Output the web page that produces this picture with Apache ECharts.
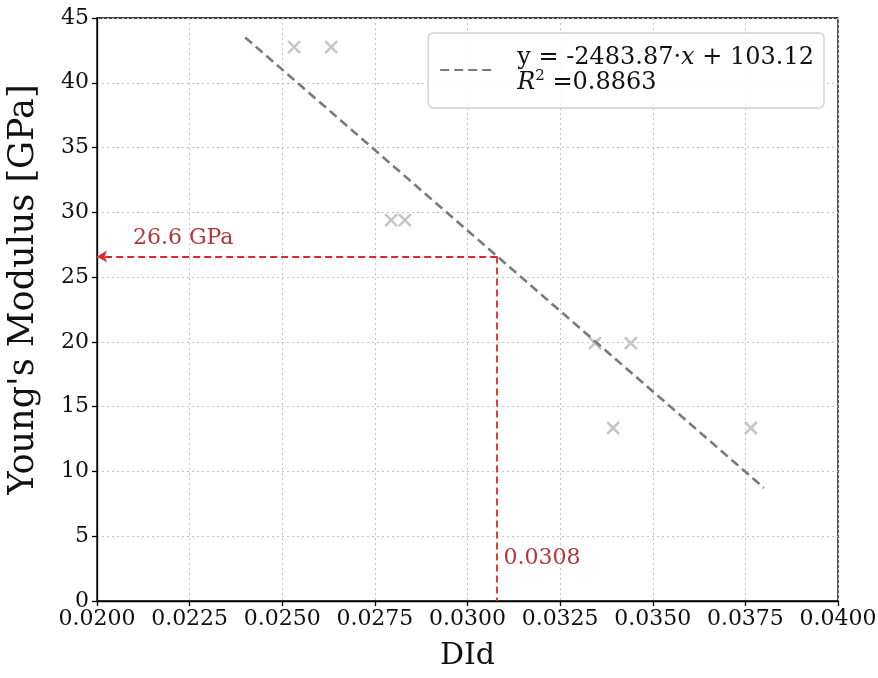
<!DOCTYPE html>
<html>
<head>
<meta charset="utf-8">
<script src="https://cdn.jsdelivr.net/npm/echarts@6/dist/echarts.min.js"></script>
<style>html,body{margin:0;padding:0;background:#fff}#c{width:878px;height:678px}</style>
</head>
<body>
<div id="c"></div>
<script>
// Measured points (DId, Young's modulus)
const didValues = [0.02532, 0.02632, 0.02794, 0.02831, 0.03344, 0.03441, 0.03393, 0.03765];
const modulusValues = [42.75, 42.75, 29.4, 29.4, 19.9, 19.9, 13.35, 13.35];
// Fit line end points
const fitX = [0.0240, 0.0380];
const fitY = [43.5, 8.73];
const fitLabel = 'y = -2483.87·{it|x} + 103.12\n{it|R}{sup|2} {n|=0.8863}';
// Annotation
const targetDId = 0.0308;
const targetModulus = 26.6;
const xMin = 0.0200, xMax = 0.0400, xStep = 0.0025;
const yMin = 0, yMax = 45, yStep = 5;

const FONT = 'DejaVu Serif';
const chart = echarts.init(document.getElementById('c'), null, {renderer: 'canvas'});
const scatterData = didValues.map((v, i) => [v, modulusValues[i]]);
const fitData = fitX.map((v, i) => [v, fitY[i]]);
const gridLine = {show: true, lineStyle: {color: '#c4c4c4', type: [2, 3], width: 1}};

chart.setOption({
  animation: false,
  backgroundColor: '#fff',
  grid: {left: 97, right: 40, top: 18, bottom: 77, show: true, borderColor: '#000', borderWidth: 1.3, backgroundColor: 'transparent', containLabel: false, outerBoundsMode: 'none'},
  legend: {
    right: 54, top: 33,
    data: [{name: 'fit', itemStyle: {opacity: 0}}],
    itemWidth: 54, itemHeight: 12, itemGap: 0,
    padding: [12, 10, 12, 11],
    backgroundColor: 'rgba(255,255,255,0.85)',
    borderColor: '#d0d0d0', borderWidth: 1.3, borderRadius: 5,
    formatter: () => fitLabel,
    textStyle: {
      fontFamily: FONT, fontSize: 24, color: '#111', lineHeight: 25, padding: [0, 0, 0, 18],
      rich: {
        it: {fontFamily: FONT, fontStyle: 'italic', fontSize: 24, color: '#111', lineHeight: 25},
        sup: {fontFamily: FONT, fontSize: 15, color: '#111', padding: [0, 0, 12, 0], lineHeight: 25},
        n: {fontFamily: FONT, fontSize: 24, color: '#111', lineHeight: 25}
      }
    }
  },
  xAxis: {
    type: 'value', min: xMin, max: xMax, interval: xStep,
    name: 'DId', nameLocation: 'middle', nameGap: 40,
    nameTextStyle: {fontFamily: FONT, fontSize: 30, color: '#111'},
    axisLine: {show: true, onZero: false, lineStyle: {color: '#000', width: 1.3}},
    axisTick: {show: true, length: 5, lineStyle: {color: '#000', width: 1.3}},
    axisLabel: {fontFamily: FONT, fontSize: 22, color: '#111', margin: 7, formatter: v => v.toFixed(4)},
    splitLine: gridLine
  },
  yAxis: {
    type: 'value', min: yMin, max: yMax, interval: yStep,
    name: "Young's Modulus [GPa]", nameLocation: 'middle', nameGap: 56,
    nameTextStyle: {fontFamily: FONT, fontSize: 35, color: '#111', padding: [0, 0, 0, 40]},
    axisLine: {show: true, onZero: false, lineStyle: {color: '#000', width: 1.3}},
    axisTick: {show: true, length: 5, lineStyle: {color: '#000', width: 1.3}},
    axisLabel: {fontFamily: FONT, fontSize: 22, color: '#111', margin: 8},
    splitLine: gridLine
  },
  series: [
    {
      name: 'points', type: 'scatter', data: scatterData,
      symbol: 'path://M0,0L10,10M10,0L0,10', symbolSize: 12,
      itemStyle: {color: 'none', borderColor: '#b8b8b8', borderWidth: 2.6},
      z: 3
    },
    {
      name: 'fit', type: 'line', data: fitData, showSymbol: false, symbol: 'none',
      lineStyle: {color: '#7a7a7a', width: 2.6, type: [9, 5]},
      itemStyle: {color: '#7a7a7a'},
      z: 4
    },
    {
      name: 'annot', type: 'line', data: [], silent: true,
      markLine: {
        silent: true, animation: false,
        lineStyle: {color: '#e0282a', width: 1.8, type: [7, 4]},
        label: {show: false},
        data: [
          [{coord: [targetDId, targetModulus], symbol: 'none'}, {coord: [xMin, targetModulus], symbol: 'arrow', symbolSize: [9, 10]}],
          [{coord: [targetDId, targetModulus], symbol: 'none'}, {coord: [targetDId, yMin], symbol: 'none'}]
        ]
      },
      markPoint: {
        silent: true, symbol: 'circle', symbolSize: 0,
        data: [
          {coord: [0.02097, 28.0], label: {show: true, formatter: targetModulus.toFixed(1) + ' GPa', position: 'right', distance: 0, fontFamily: FONT, fontSize: 22, color: '#b5373a'}},
          {coord: [0.03097, 3.3], label: {show: true, formatter: String(targetDId), position: 'right', distance: 0, fontFamily: FONT, fontSize: 22, color: '#b5373a'}}
        ]
      },
      z: 5
    }
  ]
});
</script>
</body>
</html>
